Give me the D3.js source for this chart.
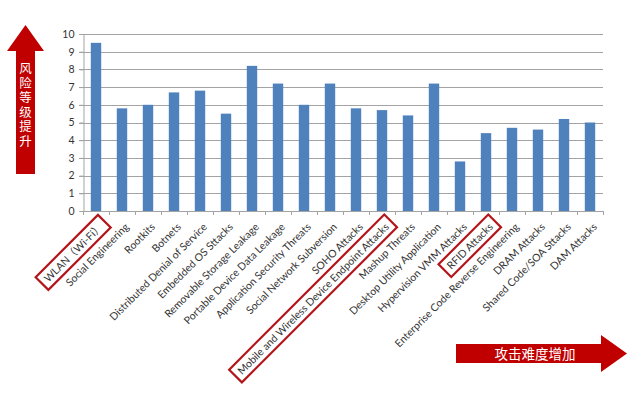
<!DOCTYPE html>
<html><head><meta charset="utf-8">
<script src="https://cdn.jsdelivr.net/npm/d3@7"></script>
<style>
body{margin:0;background:#fff;}
svg{display:block;}
</style></head>
<body>
<svg id="chart" width="640" height="407"></svg>
<script>
const categories = ["WLAN（Wi-Fi）","Social Engineering","Rootkits","Botnets","Distributed Denial of Service","Embedded OS Sttacks","Removable Storage Leakage","Portable Device Data Leakage","Application Security Threats","Social Network Subversion","SOHO Attacks","Mobile and Wireless Device Endpoint Attacks","Mashup Threats","Desktop Utility Application","Hypervision VMM Attacks","RFID Attacks","Enterprise Code Reverse Engineering","DRAM Attacks","Shared Code/SOA Sttacks","DAM Attacks"];
const values = [9.5,5.8,6.0,6.7,6.8,5.5,8.2,7.2,6.0,7.2,5.8,5.7,5.4,7.2,2.8,4.4,4.7,4.6,5.2,5.0];
const yTicks = [0,1,2,3,4,5,6,7,8,9,10];
const highlighted = ["WLAN（Wi-Fi）","Mobile and Wireless Device Endpoint Attacks","RFID Attacks"];
const yTitle = "风险等级提升";
const xTitle = "攻击难度增加";

(function(){
const svg = d3.select("#chart");
const pLeft = 83, pRight = 603, pTop = 34, pBottom = 211;
const red = "#c00000", boxRed = "#b3151b";
const latin = "Lato, 'Noto Sans CJK SC', sans-serif";

const x = d3.scaleBand().domain(categories).range([pLeft, pRight]).paddingInner(0.6).paddingOuter(0.3);
const y = d3.scaleLinear().domain([0, 10]).range([pBottom, pTop]);

// gridlines
svg.append("g").selectAll("line").data(yTicks.filter(d => d > 0)).join("line")
  .attr("x1", pLeft - 4).attr("x2", pRight).attr("y1", d => Math.round(y(d)) + 0.5).attr("y2", d => Math.round(y(d)) + 0.5)
  .attr("stroke", "#a3a3a3").attr("stroke-width", 1);

// y axis
const yAxis = svg.append("g").attr("transform", `translate(${pLeft + 0.5},0)`)
  .call(d3.axisLeft(y).tickValues(yTicks).tickSize(4).tickPadding(5));
yAxis.select(".domain").attr("stroke", "#a3a3a3");
yAxis.selectAll(".tick line").attr("stroke", "#a3a3a3");
yAxis.selectAll(".tick text").attr("fill", "#333").style("font-family", latin).style("font-size", "10.5px");

// bars
svg.append("g").selectAll("rect").data(categories).join("rect")
  .attr("x", d => x(d)).attr("width", x.bandwidth())
  .attr("y", (d, i) => y(values[i])).attr("height", (d, i) => y(0) - y(values[i]))
  .attr("fill", "#4f81bd");

// x axis
const step = x.step();
const xAxisG = svg.append("g");
xAxisG.append("line").attr("x1", pLeft).attr("x2", pRight).attr("y1", pBottom + 0.5).attr("y2", pBottom + 0.5).attr("stroke", "#a3a3a3");
xAxisG.selectAll("line.tk").data(d3.range(categories.length + 1)).join("line").attr("class", "tk")
  .attr("x1", i => Math.round(pLeft + i * step) + 0.5).attr("x2", i => Math.round(pLeft + i * step) + 0.5)
  .attr("y1", pBottom).attr("y2", pBottom + 4).attr("stroke", "#a3a3a3");

const labels = xAxisG.selectAll("g.lab").data(categories).join("g").attr("class", "lab")
  .attr("transform", d => `translate(${x(d) + x.bandwidth() / 2 + 5},${pBottom + 14}) rotate(-45)`);
labels.append("text").attr("text-anchor", "end").attr("dy", "0.35em")
  .attr("fill", "#333").style("font-family", latin).style("font-size", "10.5px")
  .text(d => d);
labels.filter(d => highlighted.includes(d)).each(function() {
  const g = d3.select(this);
  const bb = g.select("text").node().getBBox();
  const p = 4;
  g.append("rect").attr("x", bb.x - p - 1).attr("y", bb.y - p + 1).attr("width", bb.width + 2 * p + 2).attr("height", bb.height + 2 * p - 2)
    .attr("fill", "none").attr("stroke", boxRed).attr("stroke-width", 2.2);
});

// vertical arrow
svg.append("path").attr("d", "M25.5,25 L44,51 L35,51 L35,174 L16,174 L16,51 L7,51 Z").attr("fill", red);
svg.append("text").attr("x", 25.5).attr("y", 62)
  .style("writing-mode", "vertical-rl").style("text-orientation", "upright").style("letter-spacing", "2px")
  .attr("fill", "#fff").style("font-family", "'Noto Sans CJK SC', sans-serif").style("font-size", "12.5px")
  .text(yTitle);

// horizontal arrow
svg.append("path").attr("d", "M456,344 L601,344 L601,335 L627,353.5 L601,372 L601,363 L456,363 Z").attr("fill", red);
svg.append("text").attr("x", 535).attr("y", 354).attr("dy", "0.35em").attr("text-anchor", "middle")
  .attr("fill", "#fff").style("font-family", "'Noto Sans CJK SC', sans-serif").style("font-size", "13.5px").text(xTitle);
})();
</script>
</body></html>
